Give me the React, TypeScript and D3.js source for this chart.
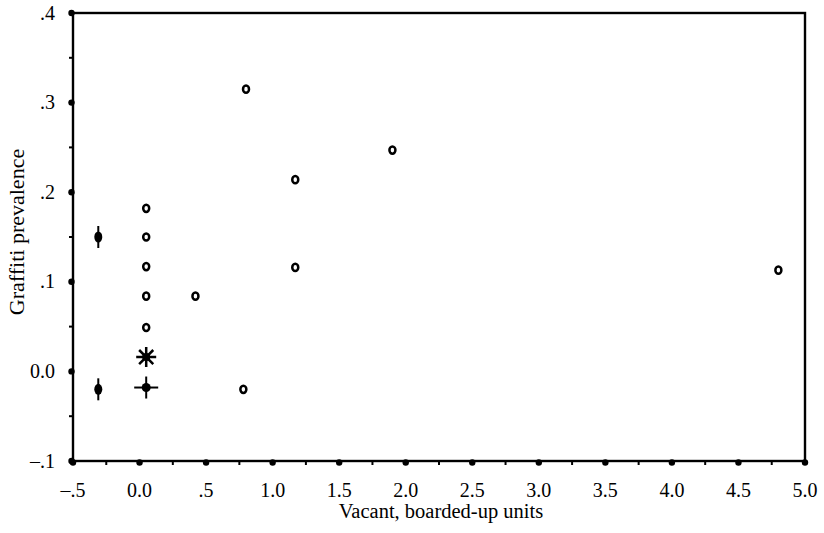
import * as d3 from 'd3';

// open-circle observations
const ringX = [0.05, 0.05, 0.05, 0.05, 0.05, 0.42, 0.78, 0.8, 1.17, 1.17, 1.9, 4.8];
const ringY = [0.182, 0.15, 0.117, 0.084, 0.049, 0.084, -0.02, 0.315, 0.214, 0.116, 0.247, 0.113];
// filled dots with vertical bar
const barX = [-0.31, -0.31];
const barY = [0.15, -0.02];
// cross marker and asterisk
const crossX = [0.05];
const crossY = [-0.018];
const starX = [0.05];
const starY = [0.016];

const xTicks = [-0.5, 0, 0.5, 1, 1.5, 2, 2.5, 3, 3.5, 4, 4.5, 5];
const xTickLabels = ['\u2013.5', '0.0', '.5', '1.0', '1.5', '2.0', '2.5', '3.0', '3.5', '4.0', '4.5', '5.0'];
const xMinor = [-0.25, 0.25, 0.75, 1.25, 1.75, 2.25, 2.75, 3.25, 3.75, 4.25, 4.75];
const yTicks = [0.4, 0.3, 0.2, 0.1, 0, -0.1];
const yTickLabels = ['.4', '.3', '.2', '.1', '0.0', '\u2013.1'];
const yMinor = [0.35, 0.25, 0.15, 0.05, -0.05];

const W = 824;
const H = 533;
const font = '"Liberation Serif", "DejaVu Serif", serif';

export default function App() {
  const x = d3.scaleLinear().domain([-0.5, 5]).range([73, 805]);
  const y = d3.scaleLinear().domain([-0.1, 0.4]).range([461, 13]);
  const left = x(-0.5), right = x(5), top = y(0.4), bottom = y(-0.1);

  const star = (cx: number, cy: number) => {
    const r = 10;
    return d3.range(4).map(i => {
      const a = (i * Math.PI) / 4;
      return `M${cx - r * Math.cos(a)},${cy - r * Math.sin(a)}L${cx + r * Math.cos(a)},${cy + r * Math.sin(a)}`;
    }).join('');
  };

  return (
    <svg width={W} height={H} style={{ position: 'absolute', left: 0, top: 0, background: '#fff' }}>
      {/* frame */}
      <rect x={left} y={top} width={right - left} height={bottom - top} fill="none" stroke="#000" strokeWidth={2.4} />

      {/* y ticks */}
      {yTicks.map((t, i) => (
        <g key={'yt' + i}>
          <circle cx={left - 1.5} cy={y(t)} r={3.2} fill="#000" />
          <text x={55} y={y(t) + 6.5} textAnchor="end" fontFamily={font} fontSize={20}>{yTickLabels[i]}</text>
        </g>
      ))}
      {yMinor.map((t, i) => (
        <line key={'ym' + i} x1={left - 4} x2={left} y1={y(t)} y2={y(t)} stroke="#000" strokeWidth={2} />
      ))}

      {/* x ticks */}
      {xTicks.map((t, i) => (
        <g key={'xt' + i}>
          <circle cx={x(t)} cy={bottom + 1.5} r={3.2} fill="#000" />
          <text x={x(t)} y={497} textAnchor="middle" fontFamily={font} fontSize={20}>{xTickLabels[i]}</text>
        </g>
      ))}
      {xMinor.map((t, i) => (
        <line key={'xm' + i} x1={x(t)} x2={x(t)} y1={bottom} y2={bottom + 4} stroke="#000" strokeWidth={2} />
      ))}

      {/* axis titles */}
      <text x={441} y={518} textAnchor="middle" fontFamily={font} fontSize={20.5}>Vacant, boarded-up units</text>
      <text transform={`translate(24,232) rotate(-90)`} textAnchor="middle" fontFamily={font} fontSize={22}>Graffiti prevalence</text>

      {/* open circles */}
      {ringX.map((v, i) => (
        <ellipse key={'r' + i} cx={x(v)} cy={y(ringY[i])} rx={3} ry={3.6} fill="#fff" stroke="#000" strokeWidth={2.5} />
      ))}

      {/* dots with vertical bars */}
      {barX.map((v, i) => (
        <g key={'b' + i}>
          <line x1={x(v)} x2={x(v)} y1={y(barY[i]) - 11} y2={y(barY[i]) + 11} stroke="#000" strokeWidth={2} />
          <ellipse cx={x(v)} cy={y(barY[i])} rx={4} ry={5.5} fill="#000" />
        </g>
      ))}

      {/* cross marker */}
      {crossX.map((v, i) => (
        <g key={'c' + i}>
          <line x1={x(v) - 12} x2={x(v) + 12} y1={y(crossY[i])} y2={y(crossY[i])} stroke="#000" strokeWidth={2} />
          <line x1={x(v)} x2={x(v)} y1={y(crossY[i]) - 11} y2={y(crossY[i]) + 11} stroke="#000" strokeWidth={2} />
          <circle cx={x(v)} cy={y(crossY[i])} r={4.5} fill="#000" />
        </g>
      ))}

      {/* asterisk */}
      {starX.map((v, i) => (
        <g key={'s' + i}>
          <path d={star(x(v), y(starY[i]))} stroke="#000" strokeWidth={2.5} />
          <circle cx={x(v)} cy={y(starY[i])} r={4} fill="#000" />
        </g>
      ))}
    </svg>
  );
}
